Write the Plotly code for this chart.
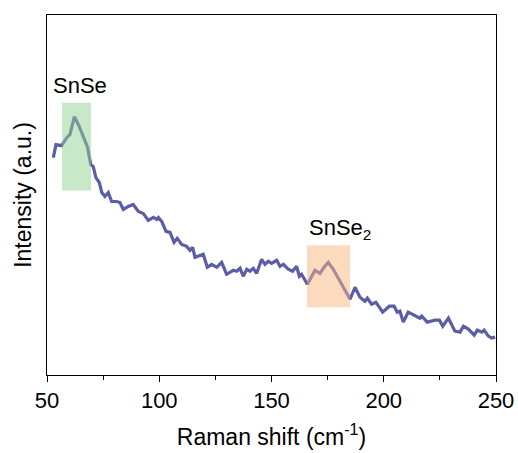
import plotly.graph_objects as go

# Raman spectrum (arbitrary intensity units)
raman_shift = [52.8, 54.0, 56.5, 58.8, 60.2, 62.2, 64.0, 66.2, 68.0, 69.5, 70.6, 71.8,
               73.3, 74.4, 75.8, 77.3, 78.8, 81.0, 82.5, 84.0, 86.2, 88.4, 90.7, 92.9,
               95.1, 97.4, 98.9, 99.6, 101.1, 103.0, 104.8, 106.6, 108.0, 110.0, 112.2,
               113.7, 114.9, 115.9, 118.2, 119.6, 121.4, 123.4, 125.6, 127.8, 130.0,
               133.0, 134.5, 136.0, 137.4, 139.0, 140.4, 141.9, 143.4, 145.6, 147.1,
               148.6, 150.1, 152.3, 153.8, 155.3, 157.5, 159.4, 161.2, 162.4, 163.4,
               166.0, 169.4, 171.6, 173.4, 175.3, 177.5, 180.5, 184.2, 185.0, 187.2,
               189.4, 191.6, 192.7, 194.6, 196.5, 199.5, 202.5, 204.6, 206.0, 207.2,
               208.7, 210.9, 213.9, 216.1, 216.9, 219.4, 222.8, 224.8, 226.3, 228.8,
               231.7, 234.0, 235.5, 237.7, 240.3, 241.7, 243.7, 244.7, 246.6, 248.1,
               249.6]
intensity = [218, 231, 230, 238, 241, 259, 251, 238, 229, 211, 209, 198,
             193, 183, 179, 183, 174, 174, 173, 166, 169, 171, 164, 162,
             155, 158, 156, 158, 154, 144, 143, 133, 137, 131, 129,
             125, 128, 118, 120, 121, 108, 111, 108, 113, 101,
             105, 104, 107, 99, 106, 104, 107, 102, 116, 111,
             114, 112, 115, 109, 111, 106, 104, 109, 99, 101,
             91, 105, 102, 108, 113, 106, 94, 79, 76, 88,
             78, 74, 77, 71, 73, 63, 69, 69, 63, 64,
             53, 63, 60, 57, 59, 53, 55, 55, 49, 57,
             44, 43, 49, 46, 40, 45, 43, 45, 39, 37,
             38]

# Highlighted peak regions: (label, x0, x1, y0, y1, fill)
peak_labels = ["SnSe", "SnSe<sub>2</sub>"]
peak_x0 = [56.7, 165.8]
peak_x1 = [69.6, 185.0]
peak_y0 = [185, 68]
peak_y1 = [273, 130]
peak_fill = ["rgba(145,209,145,0.5)", "rgba(249,181,125,0.5)"]
label_x = [52.4, 166.3]
label_y = [277, 131]

fig = go.Figure()
fig.add_trace(go.Scatter(
    x=raman_shift, y=intensity, mode="lines",
    line=dict(color="#5b5ea6", width=3.2), showlegend=False,
))

for lab, x0, x1, y0, y1, fc, lx, ly in zip(peak_labels, peak_x0, peak_x1, peak_y0,
                                            peak_y1, peak_fill, label_x, label_y):
    fig.add_shape(type="rect", x0=x0, x1=x1, y0=y0, y1=y1, xref="x", yref="y",
                  fillcolor=fc, line=dict(width=0), layer="above")
    fig.add_annotation(x=lx, y=ly, text=lab, showarrow=False, xanchor="left",
                       yanchor="bottom", borderpad=0,
                       font=dict(size=22, color="black"))

fig.update_layout(
    width=518, height=453,
    margin=dict(l=47, r=22, t=15, b=78),
    paper_bgcolor="white", plot_bgcolor="white",
    font=dict(family="Liberation Sans, Arial, sans-serif", color="black"),
    xaxis=dict(
        range=[50, 250], tickvals=[50, 100, 150, 200, 250],
        ticks="outside", ticklen=6, tickwidth=1, tickcolor="black",
        minor=dict(tickvals=[75, 125, 175, 225], ticks="outside", ticklen=4,
                   tickcolor="black", showgrid=False),
        showline=True, linecolor="black", linewidth=1, mirror=True,
        showgrid=False, zeroline=False, automargin=False,
        tickfont=dict(size=22),
        title=dict(text="Raman shift (cm<sup>-1</sup>)", font=dict(size=23), standoff=16),
    ),
    yaxis=dict(
        range=[0, 361], showticklabels=False, ticks="",
        showline=True, linecolor="black", linewidth=1, mirror=True,
        showgrid=False, zeroline=False, automargin=False,
        title=dict(text="Intensity (a.u.)", font=dict(size=23), standoff=7),
    ),
)

fig.write_html("out.html")
